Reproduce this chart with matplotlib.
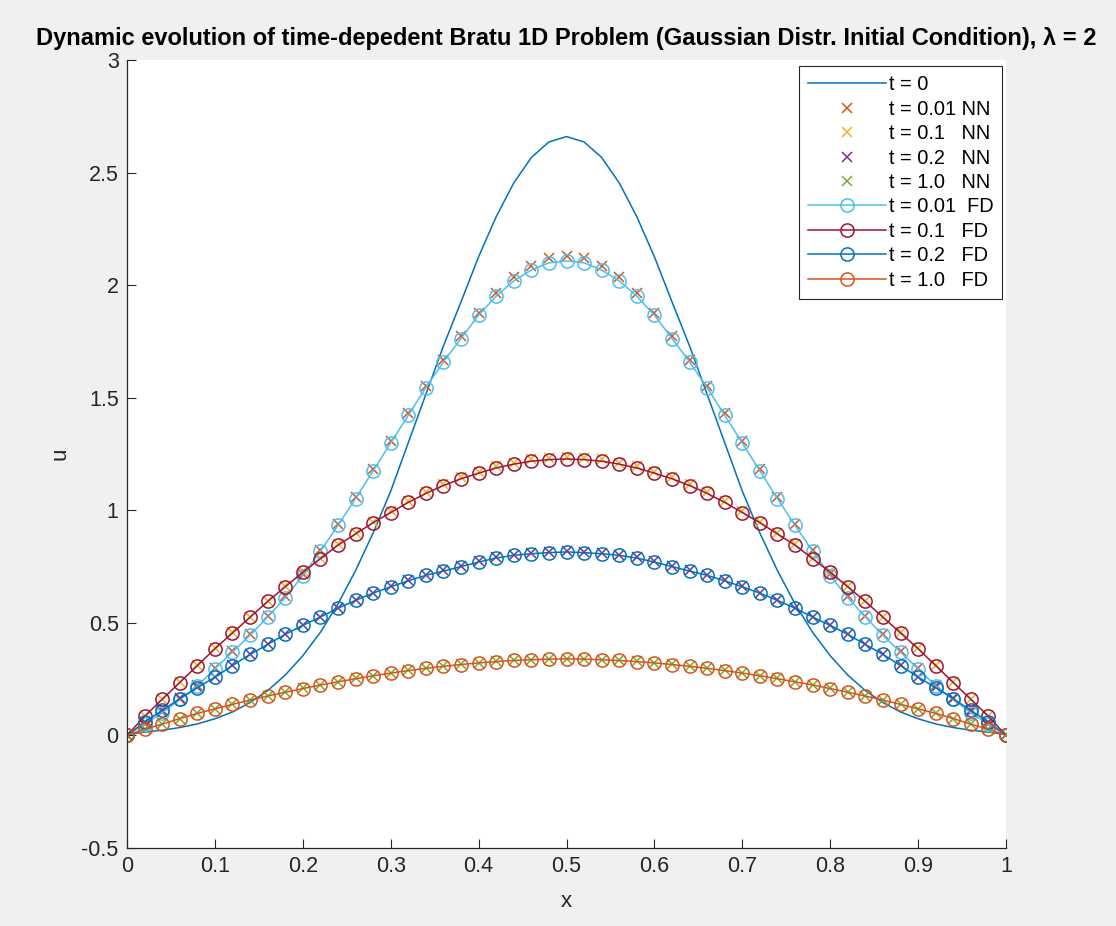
import numpy as np
import matplotlib
matplotlib.use('Agg')
import matplotlib.pyplot as plt

plt.rcParams['font.family'] = ['Liberation Sans', 'DejaVu Sans']

# malla espacial 0:0.02:1
x = np.round(np.arange(0, 51) * 0.02, 2)

# condicion inicial gaussiana (t = 0)
u_t0 = [0.004, 0.015, 0.023, 0.035, 0.051, 0.074, 0.104, 0.146, 0.199, 0.268, 0.354, 0.458, 0.584,
        0.732, 0.899, 1.085, 1.300, 1.515, 1.730, 1.926, 2.126, 2.304, 2.454, 2.567, 2.636, 2.660,
        2.636, 2.567, 2.454, 2.304, 2.126, 1.926, 1.730, 1.515, 1.300, 1.085, 0.899, 0.732, 0.584,
        0.458, 0.354, 0.268, 0.199, 0.146, 0.104, 0.074, 0.051, 0.035, 0.023, 0.015, 0.004]

# red neuronal (NN)
nn_001 = [0.0, 0.052, 0.103, 0.162, 0.224, 0.300, 0.374, 0.450, 0.532, 0.618, 0.716, 0.824, 0.940,
          1.058, 1.182, 1.306, 1.430, 1.553, 1.668, 1.773, 1.878, 1.965, 2.035, 2.087, 2.120, 2.130,
          2.120, 2.087, 2.035, 1.965, 1.878, 1.773, 1.668, 1.553, 1.430, 1.306, 1.182, 1.058, 0.940,
          0.824, 0.716, 0.618, 0.532, 0.450, 0.374, 0.300, 0.224, 0.162, 0.103, 0.052, 0.0]
nn_01 = [0.0, 0.087, 0.163, 0.238, 0.313, 0.388, 0.458, 0.528, 0.598, 0.664, 0.729, 0.789, 0.849,
         0.900, 0.950, 0.995, 1.040, 1.080, 1.116, 1.146, 1.172, 1.195, 1.212, 1.226, 1.233, 1.236,
         1.233, 1.226, 1.212, 1.195, 1.172, 1.146, 1.116, 1.080, 1.040, 0.995, 0.950, 0.900, 0.849,
         0.789, 0.729, 0.664, 0.598, 0.528, 0.458, 0.388, 0.313, 0.238, 0.163, 0.087, 0.0]
nn_02 = [0.0, 0.061, 0.112, 0.165, 0.214, 0.261, 0.312, 0.362, 0.406, 0.451, 0.491, 0.528, 0.567,
         0.602, 0.634, 0.662, 0.689, 0.713, 0.733, 0.753, 0.773, 0.791, 0.803, 0.810, 0.815, 0.818,
         0.815, 0.810, 0.803, 0.791, 0.773, 0.753, 0.733, 0.713, 0.689, 0.662, 0.634, 0.602, 0.567,
         0.528, 0.491, 0.451, 0.406, 0.362, 0.312, 0.261, 0.214, 0.165, 0.112, 0.061, 0.0]
nn_10 = [0.0, 0.028, 0.051, 0.075, 0.099, 0.119, 0.139, 0.158, 0.176, 0.193, 0.209, 0.225, 0.239,
         0.253, 0.266, 0.278, 0.289, 0.299, 0.308, 0.316, 0.323, 0.329, 0.334, 0.337, 0.340, 0.341,
         0.340, 0.337, 0.334, 0.329, 0.323, 0.316, 0.308, 0.299, 0.289, 0.278, 0.266, 0.253, 0.239,
         0.225, 0.209, 0.193, 0.176, 0.158, 0.139, 0.119, 0.099, 0.075, 0.051, 0.028, 0.0]

# diferencias finitas (FD)
fd_001 = [0.0, 0.050, 0.100, 0.160, 0.220, 0.296, 0.370, 0.445, 0.526, 0.612, 0.710, 0.818, 0.933,
          1.052, 1.175, 1.299, 1.422, 1.545, 1.659, 1.763, 1.867, 1.951, 2.019, 2.067, 2.099, 2.108,
          2.099, 2.067, 2.019, 1.951, 1.867, 1.763, 1.659, 1.545, 1.422, 1.299, 1.175, 1.052, 0.933,
          0.818, 0.710, 0.612, 0.526, 0.445, 0.370, 0.296, 0.220, 0.160, 0.100, 0.050, 0.0]
fd_01 = [0.0, 0.085, 0.160, 0.235, 0.310, 0.385, 0.455, 0.525, 0.595, 0.660, 0.725, 0.785, 0.845,
         0.895, 0.945, 0.990, 1.035, 1.075, 1.110, 1.140, 1.165, 1.188, 1.205, 1.218, 1.225, 1.228,
         1.225, 1.218, 1.205, 1.188, 1.165, 1.140, 1.110, 1.075, 1.035, 0.990, 0.945, 0.895, 0.845,
         0.785, 0.725, 0.660, 0.595, 0.525, 0.455, 0.385, 0.310, 0.235, 0.160, 0.085, 0.0]
fd_02 = [0.0, 0.060, 0.111, 0.163, 0.212, 0.259, 0.310, 0.360, 0.404, 0.449, 0.489, 0.526, 0.565,
         0.600, 0.632, 0.660, 0.687, 0.711, 0.730, 0.750, 0.770, 0.788, 0.800, 0.807, 0.812, 0.815,
         0.812, 0.807, 0.800, 0.788, 0.770, 0.750, 0.730, 0.711, 0.687, 0.660, 0.632, 0.600, 0.565,
         0.526, 0.489, 0.449, 0.404, 0.360, 0.310, 0.259, 0.212, 0.163, 0.111, 0.060, 0.0]
fd_10 = [0.0, 0.028, 0.050, 0.075, 0.098, 0.118, 0.138, 0.157, 0.175, 0.192, 0.208, 0.224, 0.238,
         0.252, 0.265, 0.277, 0.288, 0.298, 0.307, 0.315, 0.322, 0.328, 0.333, 0.336, 0.339, 0.340,
         0.339, 0.336, 0.333, 0.328, 0.322, 0.315, 0.307, 0.298, 0.288, 0.277, 0.265, 0.252, 0.238,
         0.224, 0.208, 0.192, 0.175, 0.157, 0.138, 0.118, 0.098, 0.075, 0.050, 0.028, 0.0]

x_ticks = [0, 0.1, 0.2, 0.3, 0.4, 0.5, 0.6, 0.7, 0.8, 0.9, 1]
x_labels = ['0', '0.1', '0.2', '0.3', '0.4', '0.5', '0.6', '0.7', '0.8', '0.9', '1']
y_ticks = [-0.5, 0, 0.5, 1, 1.5, 2, 2.5, 3]
y_labels = ['-0.5', '0', '0.5', '1', '1.5', '2', '2.5', '3']

fig = plt.figure(figsize=(11.16, 9.26), dpi=100, facecolor='#f0f0f0')
ax = fig.add_axes([127/1116, 78/926, 879/1116, 788/926])

lw = 1.1
ax.plot(x, u_t0, '-', color='#0072BD', lw=lw, label='t = 0')

ax.plot(x, nn_001, 'x', color='#D95319', ms=6.5, mew=1.1, label='t = 0.01 NN')
ax.plot(x, nn_01, 'x', color='#EDB120', ms=6.5, mew=1.1, label='t = 0.1   NN')
ax.plot(x, nn_02, 'x', color='#7E2F8E', ms=6.5, mew=1.1, label='t = 0.2   NN')
ax.plot(x, nn_10, 'x', color='#77AC30', ms=6.5, mew=1.1, label='t = 1.0   NN')

ax.plot(x, fd_001, '-o', color='#4DBEEE', lw=lw, ms=9.5, mfc='none', mew=1.1, label='t = 0.01  FD')
ax.plot(x, fd_01, '-o', color='#A2142F', lw=lw, ms=9.5, mfc='none', mew=1.1, label='t = 0.1   FD')
ax.plot(x, fd_02, '-o', color='#0072BD', lw=lw, ms=9.5, mfc='none', mew=1.1, label='t = 0.2   FD')
ax.plot(x, fd_10, '-o', color='#D95319', lw=lw, ms=9.5, mfc='none', mew=1.1, label='t = 1.0   FD')

ax.set_xlim(0, 1)
ax.set_ylim(-0.5, 3)
ax.set_xticks(x_ticks)
ax.set_xticklabels(x_labels)
ax.set_yticks(y_ticks)
ax.set_yticklabels(y_labels)
ax.tick_params(direction='in', length=6.5, width=0.8, labelsize=15.5, colors='#262626', pad=6)
for s in ['top', 'right']:
    ax.spines[s].set_visible(False)
for s in ['left', 'bottom']:
    ax.spines[s].set_color('#262626')
    ax.spines[s].set_linewidth(0.9)

ax.set_xlabel('x', fontsize=16, color='#262626', labelpad=10)
ax.set_ylabel('u', fontsize=16, color='#262626', labelpad=8)
ax.set_title('Dynamic evolution of time-depedent Bratu 1D Problem (Gaussian Distr. Initial Condition), \u03bb = 2',
             fontsize=17, fontweight='bold', pad=11)

leg = ax.legend(loc='upper right', bbox_to_anchor=(0.996, 0.992), fontsize=14.4, handlelength=3.9,
                handletextpad=0.12, borderpad=0.45, labelspacing=0.27, fancybox=False,
                framealpha=1, edgecolor='#262626', borderaxespad=0)
leg.get_frame().set_linewidth(0.8)

plt.savefig('out.png', dpi=100, facecolor=fig.get_facecolor())
